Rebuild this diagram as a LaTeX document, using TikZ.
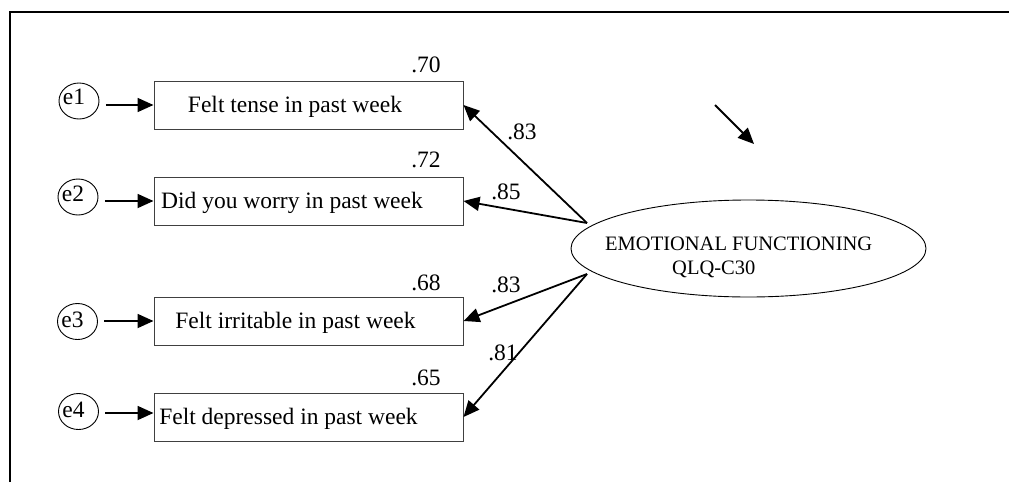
\documentclass[tikz,border=0pt]{standalone}
\usepackage{fontspec}
\setmainfont{Liberation Serif}
\usetikzlibrary{arrows.meta,shapes.geometric}
\begin{document}
\begin{tikzpicture}[x=1pt,y=-1pt,
  big/.style={font=\fontsize{23.5}{28}\selectfont},
  small/.style={font=\fontsize{20.5}{24}\selectfont},
  box/.style={draw=black!75, line width=1pt, minimum width=309pt, minimum height=48pt,
    inner sep=0pt, text height=16pt, text depth=1pt, big},
  err/.style={draw, ellipse, line width=0.9pt, minimum width=40pt, minimum height=36pt, inner sep=0pt},
  errlbl/.style={big, inner sep=0pt, xshift=-5pt},
  latent/.style={draw, ellipse, line width=0.9pt, minimum width=355pt, minimum height=97pt, inner sep=0pt},
  num/.style={big, inner sep=0pt},
  ftext/.style={small, inner sep=0pt, anchor=base west},
  arr/.style={line width=1.8pt, -{Triangle[length=16pt,width=14pt]}},
  frame/.style={line width=2pt}]
\useasboundingbox (0,0) rectangle (1009,482);
% frame
\draw[frame] (10,482) -- (10,12) -- (1009,12);
% observed variables
\node[box] (b1) at (308.5,105) {Felt tense in past week\hspace*{27pt}};
\node[box] (b2) at (308.5,201) {Did you worry in past week\hspace*{33pt}};
\node[box] (b3) at (308.5,321) {Felt irritable in past week\hspace*{26pt}};
\node[box] (b4) at (308.5,417) {Felt depressed in past week\hspace*{40pt}};
% error terms
\node[err, label={[errlbl, yshift=4pt]center:e1}] (e1) at (79,101) {};
\node[err, label={[errlbl, yshift=3pt]center:e2}] (e2) at (78,197) {};
\node[err, label={[errlbl, yshift=1.5pt]center:e3}] (e3) at (77.5,321.5) {};
\node[err, label={[errlbl, yshift=2pt]center:e4}] (e4) at (78.5,411.5) {};
\draw[arr, shorten <=6.5pt] (e1.east |- b1.west) -- (b1.west);
\draw[arr, shorten <=6.5pt] (e2.east |- b2.west) -- (b2.west);
\draw[arr, shorten <=6.5pt] (e3.east |- b3.west) -- (b3.west);
\draw[arr, shorten <=6.5pt] ([yshift=-1.5pt]e4.east) -- ([yshift=-1.5pt]e4.east -| b4.west);
% R-squared values
\node[num] (r1) at (426,64.5) {.70};
\node[num] (r2) at (426,160) {.72};
\node[num] (r3) at (426,283) {.68};
\node[num] (r4) at (426,378) {.65};
% latent factor
\node[latent] (f) at (748.5,248.5) {};
\node[ftext] (ft1) at (605,250) {EMOTIONAL FUNCTIONING};
\node[ftext] (ft2) at (672,274) {QLQ-C30};
\coordinate (fa) at (587,223);
\coordinate (fb) at (587,274);
\draw[arr] (fa) -- (b1.east);
\draw[arr] (fa) -- (b2.east);
\draw[arr] (fb) -- (b3.east);
\draw[arr] (fb) -- (b4.east);
% loadings
\node[num] (l1) at (522,132) {.83};
\node[num] (l2) at (506,192) {.85};
\node[num] (l3) at (506,285) {.83};
\node[num] (l4) at (503,353) {.81};
% stray arrow
\coordinate (n1) at (715,105);
\coordinate (n2) at (754,144);
\draw[arr] (n1) -- (n2);
\end{tikzpicture}
\end{document}
